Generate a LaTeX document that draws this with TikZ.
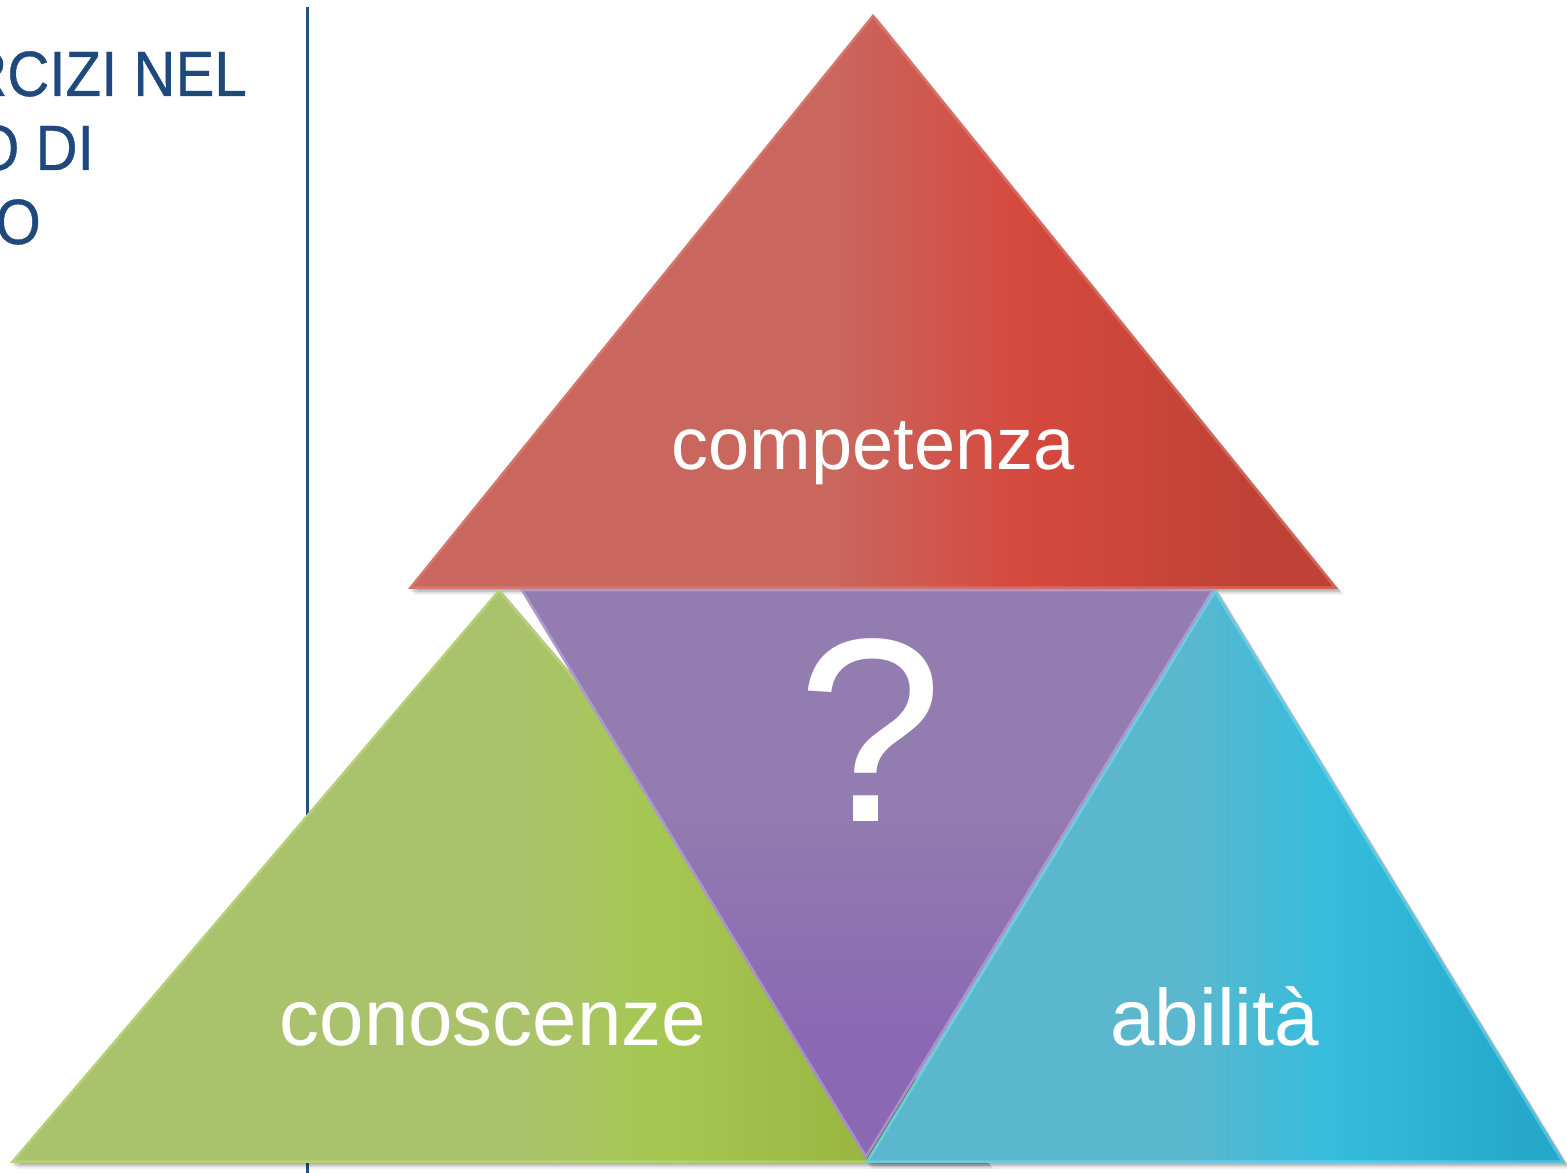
\documentclass[tikz,border=0pt]{standalone}
\usepackage{fontspec}
\setmainfont{Liberation Sans}
\newfontfamily\titlefont[FakeStretch=0.91,FakeBold=0.6]{Liberation Sans}
\definecolor{titleblue}{RGB}{31,73,125}
\definecolor{lineblue}{RGB}{36,80,130}
\definecolor{redA}{RGB}{201,102,94}
\definecolor{redB}{RGB}{213,73,62}
\definecolor{redC}{RGB}{192,66,54}
\definecolor{redE}{RGB}{232,140,128}
\definecolor{greenA}{RGB}{171,194,108}
\definecolor{greenB}{RGB}{165,200,83}
\definecolor{greenC}{RGB}{155,183,66}
\definecolor{greenE}{RGB}{200,225,140}
\definecolor{purA}{RGB}{146,124,176}
\definecolor{purB}{RGB}{139,104,179}
\definecolor{purE}{RGB}{205,190,245}
\definecolor{blueA}{RGB}{91,183,206}
\definecolor{blueB}{RGB}{54,189,221}
\definecolor{blueC}{RGB}{37,168,202}
\definecolor{blueE}{RGB}{130,230,250}
\pgfdeclarehorizontalshading{redsh}{100bp}{color(0bp)=(redA); color(48bp)=(redA); color(58bp)=(redB); color(70bp)=(redC); color(100bp)=(redC)}
\pgfdeclarehorizontalshading{greensh}{100bp}{color(0bp)=(greenA); color(51bp)=(greenA); color(58bp)=(greenB); color(68bp)=(greenC); color(100bp)=(greenC)}
\pgfdeclareverticalshading{pursh}{100bp}{color(0bp)=(purB); color(36bp)=(purB); color(56bp)=(purA); color(100bp)=(purA)}
\pgfdeclarehorizontalshading{bluesh}{100bp}{color(0bp)=(blueA); color(48bp)=(blueA); color(58bp)=(blueB); color(72bp)=(blueC); color(100bp)=(blueC)}
\newcommand{\mydropshadow}[3]{%
  \foreach \d/\o in {1.5/0.10,3/0.10,4.5/0.08,6/0.05}{%
    \fill[black,opacity=\o] ([shift={(\d,-\d)}]#1) -- ([shift={(\d,-\d)}]#2) -- ([shift={(\d,-\d)}]#3) -- cycle;
  }}
\newcommand{\mypiece}[5]{%
  \mydropshadow{#1}{#2}{#3}
  \shade[shading=#4] (#1) -- (#2) -- (#3) -- cycle;
  \begin{scope}
    \clip (#1) -- (#2) -- (#3) -- cycle;
    \draw[#5, line width=5, opacity=0.45, line join=miter] (#1) -- (#2) -- (#3) -- cycle;
  \end{scope}}
\tikzset{
  titletext/.style={text=titleblue, inner sep=0, font=\titlefont\fontsize{64}{74}\selectfont},
  lbl/.style={text=white, inner sep=0, anchor=base},
}
\begin{document}
\begin{tikzpicture}[x=1pt,y=1pt]
\useasboundingbox (0,0) rectangle (1567,1173);
\clip (0,0) rectangle (1567,1173);
\fill[white] (0,0) rectangle (1567,1173);
% left title (cut by the page edge, as in the reference)
\node[titletext, anchor=base east] (t1) at (247,1077) {RCIZI NEL};
\node[titletext, anchor=base east] (t2) at (94,1003) {O DI};
\node[titletext, anchor=base east] (t3) at (41,929) {O};
% vertical rule
\coordinate (vtop) at (307,1166);
\coordinate (vbot) at (307,0);
\draw[lineblue, line width=3] (vtop) -- (vbot);
% triangle corners
\coordinate (rT) at (873,1159);
\coordinate (rL) at (408,584);
\coordinate (rR) at (1338,584);
\coordinate (gT) at (499,584);
\coordinate (gL) at (10,10);
\coordinate (gR) at (988,10);
\coordinate (pL) at (520,584);
\coordinate (pR) at (1215,584);
\coordinate (pB) at (866,14);
\coordinate (bT) at (1215,584);
\coordinate (bL) at (865,10);
\coordinate (bR) at (1565,10);
\mypiece{rT}{rL}{rR}{redsh}{redE}
\mypiece{gT}{gL}{gR}{greensh}{greenE}
\mypiece{pL}{pR}{pB}{pursh}{purE}
\mypiece{bT}{bL}{bR}{bluesh}{blueE}
% labels
\node[lbl, font=\fontsize{74}{90}\selectfont] (comp) at (873,703) {competenza};
\node[lbl, font=\fontsize{262}{300}\selectfont] (quest) at (870,351) {?};
\node[lbl, font=\fontsize{80}{96}\selectfont] (cono) at (493,127) {conoscenze};
\node[lbl, font=\fontsize{80}{96}\selectfont] (abil) at (1215,127) {abilità};
\end{tikzpicture}
\end{document}
